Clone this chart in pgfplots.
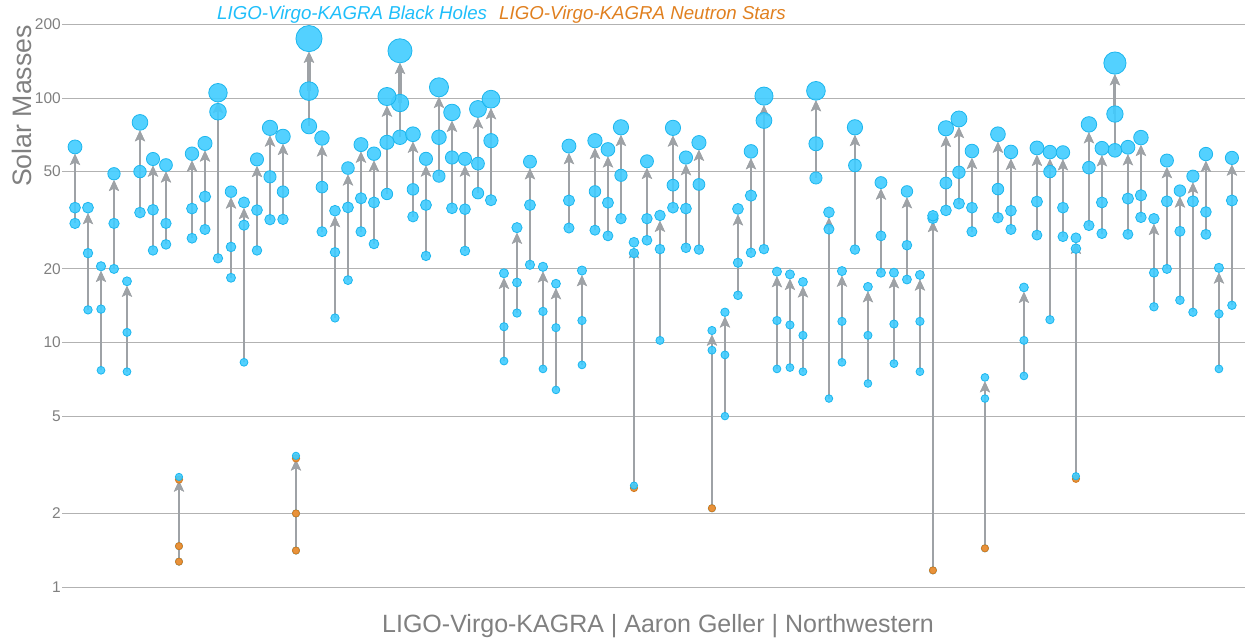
\documentclass[border=0pt]{standalone}
\usepackage{fontspec}
\setmainfont{Liberation Sans}
\usepackage{pgfplots}
\usepackage{pgfplotstable}
\pgfplotsset{compat=1.18}
\usetikzlibrary{arrows.meta}

\definecolor{bhfill}{RGB}{64,204,255}
\definecolor{bhedge}{RGB}{28,182,238}
\definecolor{nsfill}{RGB}{232,146,58}
\definecolor{nsedge}{RGB}{212,122,31}
\definecolor{arrgray}{RGB}{158,162,166}
\definecolor{txtgray}{RGB}{128,128,128}
\definecolor{gridgray}{RGB}{178,178,178}
\definecolor{bhtext}{RGB}{30,190,250}
\definecolor{nstext}{RGB}{224,128,32}

\tikzset{arr/.style={draw=arrgray, mark=none, -{Stealth[length=11bp,width=10bp,inset=2.5bp]}}}

% event index, primary mass, secondary mass, final mass
\pgfplotstableread{
x m1 m2 mf
0 35.6 30.7 63.1
1 23.2 13.6 35.6
2 13.7 7.7 20.5
3 30.7 20.0 49.0
4 11.0 7.6 17.8
5 50.0 34.0 79.5
6 34.9 23.8 56.3
7 30.7 25.2 53.2
8 1.47 1.27 2.82
9 35.3 26.7 59.2
10 39.5 29.0 65.2
11 87.9 22.1 105.1
12 24.6 18.4 41.4
13 30.2 8.3 37.4
14 34.8 23.8 56.1
15 47.6 31.8 75.5
16 41.4 31.9 69.6
17 2.0 1.41 3.44
18 106.7 76.7 175
19 43.2 28.4 68.6
20 23.4 12.6 34.6
21 35.7 18.0 51.7
22 38.9 28.4 64.5
23 37.4 25.3 59.2
24 65.9 40.5 101.4
25 95.4 69.1 156
26 42.3 32.7 71.1
27 36.5 22.6 56.4
28 69.1 47.9 110.6
29 57.1 35.4 87.3
30 35.1 23.7 56.4
31 53.9 40.8 90.2
32 66.9 38.2 98.9
33 11.6 8.4 19.2
34 17.6 13.2 29.5
35 36.5 20.8 54.9
36 13.4 7.8 20.4
37 11.5 6.4 17.4
38 38.1 29.4 63.6
39 12.3 8.1 19.7
40 41.5 28.8 66.9
41 37.3 27.3 61.6
42 48.3 32.1 75.9
43 23.2 2.6 25.7
44 32.1 26.2 55.1
45 24.1 10.2 33.1
46 44.0 35.6 75.5
47 35.3 24.4 57.1
48 44.3 24.0 65.7
49 9.3 2.1 11.2
50 8.9 5.0 13.3
51 21.2 15.6 35.2
52 39.9 23.3 60.5
53 80.9 24.1 101.8
54 12.3 7.8 19.5
55 11.8 7.9 19.0
56 10.7 7.6 17.7
57 65.0 47.1 107
58 29.1 5.9 34.1
59 12.2 8.3 19.6
60 53.0 24.0 75.9
61 10.7 6.8 16.9
62 27.3 19.3 45.1
63 11.9 8.2 19.3
64 25.0 18.1 41.5
65 12.2 7.6 18.9
66 32.2 1.17 33.0
67 44.9 34.7 75.2
68 49.7 37.0 82.1
69 35.6 28.4 60.7
70 5.9 1.44 7.2
71 42.4 32.4 71.1
72 34.6 29.0 60.2
73 10.2 7.3 16.8
74 37.7 27.5 62.5
75 50.0 12.4 60.1
76 35.6 27.1 59.9
77 24.2 2.84 26.8
78 51.9 30.1 78.0
79 37.4 27.9 62.3
80 86.0 61.1 139
81 38.8 27.7 62.9
82 40.0 32.5 68.9
83 19.3 14.0 32.1
84 37.8 20.0 55.5
85 28.5 14.9 41.8
86 37.8 13.3 47.9
87 34.2 27.7 59.0
88 13.1 7.8 20.2
89 38.1 14.2 56.9
}\events

% neutron-star markers drawn under a black-hole marker (uncertain objects)
\pgfplotstableread{
x m
8 2.75
17 3.36
43 2.54
77 2.77
}\nsboth

% neutron-star components
\pgfplotstableread{
x m
8 1.47
8 1.27
17 2.0
17 1.41
49 2.1
66 1.17
70 1.44
}\nspure

\begin{document}
\begin{tikzpicture}
\useasboundingbox (0,0) rectangle (1245bp,640bp);
\begin{axis}[
  at={(62bp,40bp)}, anchor=south west,
  scale only axis, width=1183bp, height=600bp,
  xmin=-1, xmax=90,
  ymode=log, ymin=0.885, ymax=251.7,
  axis line style={draw=none},
  xtick=\empty,
  ytick={1,2,5,10,20,50,100,200},
  yticklabels={1,2,5,10,20,50,100,200},
  major tick length=0pt,
  ymajorgrids, grid style={gridgray, line width=1bp},
  yticklabel style={font=\fontsize{15.5bp}{18bp}\selectfont, text=txtgray, anchor=east, inner sep=0pt, xshift=-1bp},
  clip=false,
]
% arrows from each component to the remnant
\pgfplotsforeachungrouped \i in {0,...,89}{
  \pgfplotstablegetelem{\i}{x}\of\events \let\xE\pgfplotsretval
  \pgfplotstablegetelem{\i}{m1}\of\events \let\mA\pgfplotsretval
  \pgfplotstablegetelem{\i}{m2}\of\events \let\mB\pgfplotsretval
  \pgfplotstablegetelem{\i}{mf}\of\events \let\mF\pgfplotsretval
  \pgfmathsetmacro{\rf}{3.5+0.055*\mF}
  \pgfmathsetmacro{\wa}{1.4+0.018*\mA}
  \pgfmathsetmacro{\wb}{1.4+0.018*\mB}
  \edef\doit{%
    \noexpand\addplot[arr, line width=\wb bp, shorten >=\rf bp] coordinates {(\xE,\mB) (\xE,\mF)};
    \noexpand\addplot[arr, line width=\wa bp, shorten >=\rf bp] coordinates {(\xE,\mA) (\xE,\mF)};
  }%
  \doit
}
% NS markers under BH markers
\addplot[scatter, only marks, mark=*, line width=0.8bp,
  scatter/use mapped color={draw=nsedge, fill=nsfill},
  visualization depends on={3.5+0.055*\thisrow{m} \as \rr},
  scatter/@pre marker code/.append style={/tikz/mark size=\rr}]
  table[x=x, y=m] {\nsboth};
% BH markers
\addplot[scatter, only marks, mark=*, line width=0.8bp,
  scatter/use mapped color={draw=bhedge, fill=bhfill, fill opacity=0.9},
  visualization depends on={3.5+0.055*\thisrow{m2} \as \rr},
  scatter/@pre marker code/.append style={/tikz/mark size=\rr}]
  table[x=x, y=m2] {\events};
\addplot[scatter, only marks, mark=*, line width=0.8bp,
  scatter/use mapped color={draw=bhedge, fill=bhfill, fill opacity=0.9},
  visualization depends on={3.5+0.055*\thisrow{m1} \as \rr},
  scatter/@pre marker code/.append style={/tikz/mark size=\rr}]
  table[x=x, y=m1] {\events};
\addplot[scatter, only marks, mark=*, line width=0.8bp,
  scatter/use mapped color={draw=bhedge, fill=bhfill, fill opacity=0.9},
  visualization depends on={3.5+0.055*\thisrow{mf} \as \rr},
  scatter/@pre marker code/.append style={/tikz/mark size=\rr}]
  table[x=x, y=mf] {\events};
% NS components
\addplot[scatter, only marks, mark=*, line width=0.8bp,
  scatter/use mapped color={draw=nsedge, fill=nsfill},
  visualization depends on={3.5+0.055*\thisrow{m} \as \rr},
  scatter/@pre marker code/.append style={/tikz/mark size=\rr}]
  table[x=x, y=m] {\nspure};
\end{axis}
\node[anchor=base west, inner sep=0pt, text=bhtext, font=\itshape\fontsize{18.7bp}{22bp}\selectfont] at (217bp,620bp) {LIGO-Virgo-KAGRA Black Holes};
\node[anchor=base west, inner sep=0pt, text=nstext, font=\itshape\fontsize{18.7bp}{22bp}\selectfont] at (499bp,620bp) {LIGO-Virgo-KAGRA Neutron Stars};
\node[anchor=base, inner sep=0pt, text=txtgray, font=\fontsize{25bp}{30bp}\selectfont] at (658bp,8bp) {LIGO-Virgo-KAGRA | Aaron Geller | Northwestern};
\node[rotate=90, inner sep=0pt, text=txtgray, font=\fontsize{26.7bp}{32bp}\selectfont] at (21.5bp,534bp) {Solar Masses};
\end{tikzpicture}
\end{document}
